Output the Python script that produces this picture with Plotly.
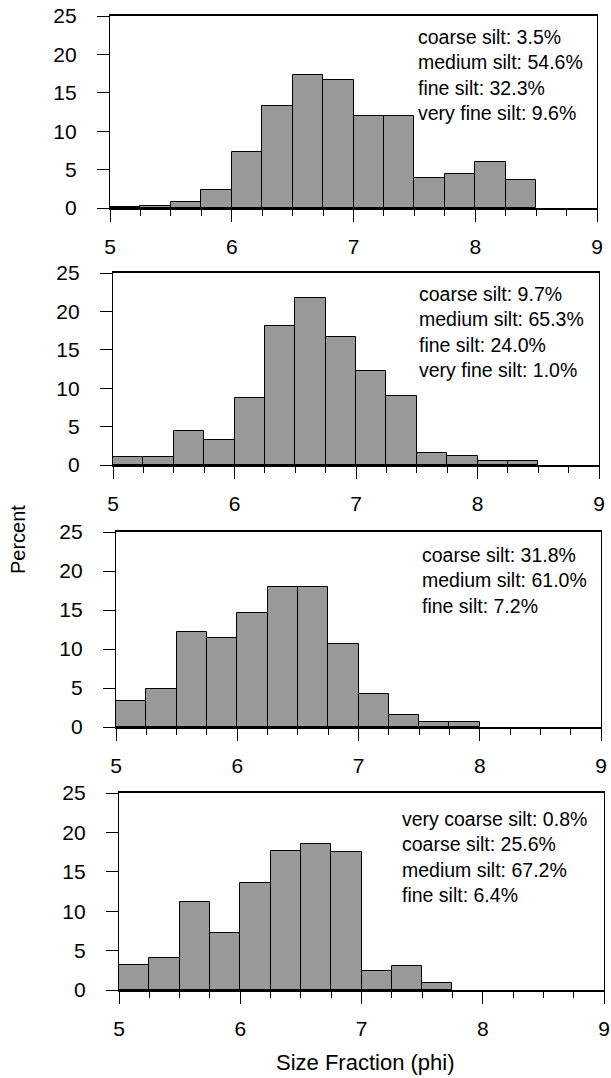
import plotly.graph_objects as go

# ---------------- data ----------------
bins1 = [5.0, 5.25, 5.5, 5.75, 6.0, 6.25, 6.5, 6.75, 7.0, 7.25, 7.5, 7.75, 8.0, 8.25]
pct1 = [0.1, 0.3, 0.8, 2.3, 7.3, 13.3, 17.3, 16.7, 12.0, 12.0, 3.9, 4.4, 6.0, 3.6]
text1 = ["coarse silt: 3.5%", "medium silt: 54.6%", "fine silt: 32.3%", "very fine silt: 9.6%"]

bins2 = [5.0, 5.25, 5.5, 5.75, 6.0, 6.25, 6.5, 6.75, 7.0, 7.25, 7.5, 7.75, 8.0, 8.25]
pct2 = [1.0, 1.0, 4.4, 3.3, 8.7, 18.1, 21.8, 16.7, 12.2, 9.0, 1.6, 1.2, 0.5, 0.5]
text2 = ["coarse silt: 9.7%", "medium silt: 65.3%", "fine silt: 24.0%", "very fine silt: 1.0%"]

bins3 = [5.0, 5.25, 5.5, 5.75, 6.0, 6.25, 6.5, 6.75, 7.0, 7.25, 7.5, 7.75]
pct3 = [3.3, 4.9, 12.2, 11.4, 14.6, 17.9, 17.9, 10.6, 4.2, 1.6, 0.7, 0.7]
text3 = ["coarse silt: 31.8%", "medium silt: 61.0%", "fine silt: 7.2%"]

bins4 = [5.0, 5.25, 5.5, 5.75, 6.0, 6.25, 6.5, 6.75, 7.0, 7.25, 7.5]
pct4 = [3.2, 4.0, 11.2, 7.2, 13.6, 17.6, 18.5, 17.5, 2.4, 3.1, 0.9]
text4 = ["very coarse silt: 0.8%", "coarse silt: 25.6%", "medium silt: 67.2%", "fine silt: 6.4%"]

x_ticks = [5, 6, 7, 8, 9]
y_ticks = [0, 5, 10, 15, 20, 25]
x_title = "Size Fraction (phi)"
y_title = "Percent"

# ---------------- layout (pixel geometry, window coordinates) ----------------
W, H = 611, 1078
# (left, right, top, bottom) of each plot box in pixels
boxes = [(110, 597, 16, 208), (113, 599, 273, 465), (116, 601, 532, 727), (119, 604, 793, 990)]
# top-left of each annotation text block in pixels
note_pos = [(416, 24), (417, 281), (420, 542), (400, 806)]

FONT = "Arial, Liberation Sans, sans-serif"
panels = [(bins1, pct1, text1), (bins2, pct2, text2), (bins3, pct3, text3), (bins4, pct4, text4)]


def px_x(x):
    return x / W


def px_y(y):
    return (H - y) / H


fig = go.Figure()
annotations = []
for i, ((bins, pct, txt), (l, r, t, b), (ax, ay)) in enumerate(zip(panels, boxes, note_pos)):
    n = "" if i == 0 else str(i + 1)
    fig.add_trace(go.Bar(
        x=bins, y=pct, width=0.25, offset=0,
        marker=dict(color="#999999", line=dict(color="black", width=1)),
        xaxis="x" + n, yaxis="y" + n, showlegend=False, hoverinfo="x+y",
    ))
    xa = dict(
        domain=[px_x(l), px_x(r)], range=[5, 9], anchor="y" + n,
        tickvals=x_ticks, ticks="outside", ticklen=12, tickwidth=1.3, tickcolor="black",
        minor=dict(dtick=0.25, tick0=5, ticks="outside", ticklen=6, tickwidth=1.2, tickcolor="black"),
        showline=True, linecolor="black", linewidth=1.6, mirror=True,
        showgrid=False, zeroline=False, automargin=False,
        tickfont=dict(family=FONT, size=21, color="black"), ticklabelstandoff=7,
    )
    ya = dict(
        domain=[px_y(b), px_y(t)], range=[0, 25], anchor="x" + n,
        tickvals=y_ticks, ticks="outside", ticklen=12, tickwidth=1.3, tickcolor="black",
        showline=True, linecolor="black", linewidth=1.4, mirror=True,
        showgrid=False, zeroline=False, automargin=False,
        tickfont=dict(family=FONT, size=21, color="black"), ticklabelstandoff=16,
    )
    fig.layout["xaxis" + n] = xa
    fig.layout["yaxis" + n] = ya
    annotations.append(dict(
        xref="paper", yref="paper", x=px_x(ax), y=px_y(ay),
        xanchor="left", yanchor="top", align="left", showarrow=False,
        text="<br>".join(txt), font=dict(family=FONT, size=19.5, color="black"),
    ))

annotations.append(dict(
    xref="paper", yref="paper", x=px_x(18), y=px_y(540), textangle=-90,
    xanchor="center", yanchor="middle", showarrow=False,
    text=y_title, font=dict(family=FONT, size=20, color="black"),
))
annotations.append(dict(
    xref="paper", yref="paper", x=px_x(365), y=px_y(1062),
    xanchor="center", yanchor="middle", showarrow=False,
    text=x_title, font=dict(family=FONT, size=22, color="black"),
))

fig.update_layout(
    width=W, height=H, margin=dict(l=0, r=0, t=0, b=0),
    paper_bgcolor="white", plot_bgcolor="white", bargap=0,
    annotations=annotations,
)

# remove the page's default body margin so the figure fills the window exactly
fig.write_html(
    "out.html",
    config={"displayModeBar": False},
    post_script="document.body.style.margin='0';document.body.style.overflow='hidden';",
)
